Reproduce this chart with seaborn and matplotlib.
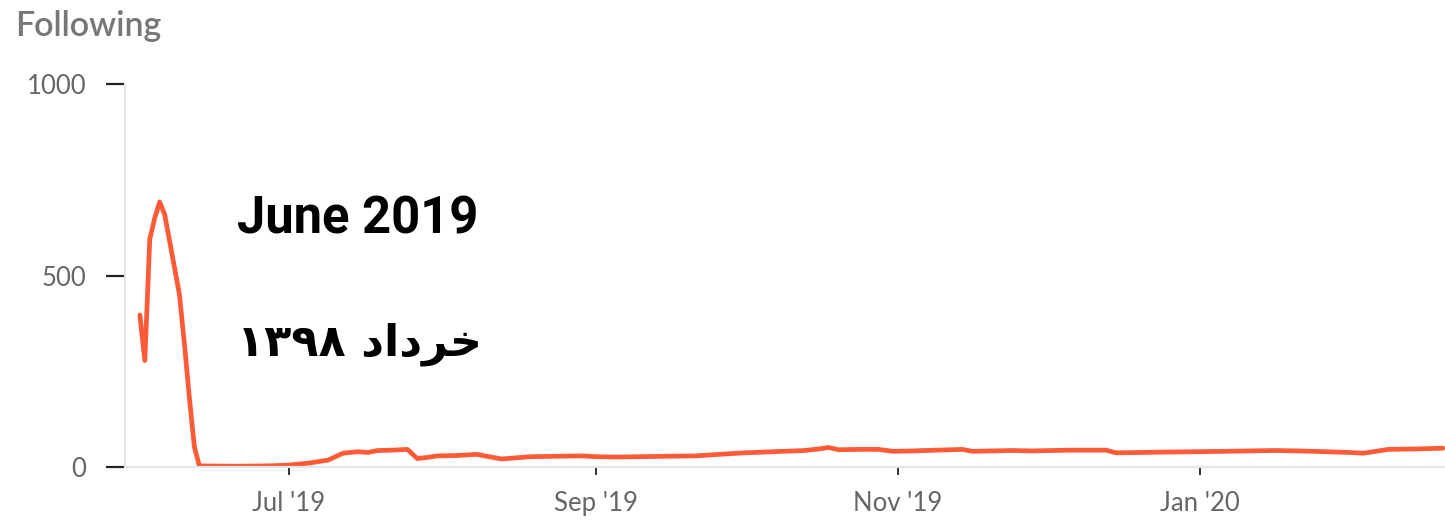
import pandas as pd
import matplotlib
matplotlib.use("Agg")
from matplotlib import pyplot as plt
import matplotlib.dates as mdates
import seaborn as sns

# data
dates = ["2019-06-01", "2019-06-02", "2019-06-03", "2019-06-04", "2019-06-05",
         "2019-06-06", "2019-06-07", "2019-06-08", "2019-06-09", "2019-06-10",
         "2019-06-11", "2019-06-12", "2019-06-13", "2019-06-20", "2019-06-27",
         "2019-07-01", "2019-07-05", "2019-07-09", "2019-07-12", "2019-07-15",
         "2019-07-17", "2019-07-19", "2019-07-22", "2019-07-25", "2019-07-27",
         "2019-07-29", "2019-07-31", "2019-08-04", "2019-08-08", "2019-08-10",
         "2019-08-13", "2019-08-16", "2019-08-19", "2019-08-24", "2019-08-29",
         "2019-09-01", "2019-09-05", "2019-09-10", "2019-09-15", "2019-09-21",
         "2019-09-26", "2019-10-01", "2019-10-07", "2019-10-13", "2019-10-16",
         "2019-10-18", "2019-10-20", "2019-10-24", "2019-10-28", "2019-10-31",
         "2019-11-04", "2019-11-09", "2019-11-14", "2019-11-16", "2019-11-20",
         "2019-11-24", "2019-11-28", "2019-12-02", "2019-12-06", "2019-12-10",
         "2019-12-13", "2019-12-15", "2019-12-20", "2019-12-25", "2020-01-01",
         "2020-01-06", "2020-01-11", "2020-01-16", "2020-01-21", "2020-01-26",
         "2020-01-31", "2020-02-03", "2020-02-06", "2020-02-08", "2020-02-13",
         "2020-02-19"]
following = [397, 278, 595, 650, 692, 660, 590, 520, 449, 320,
             180, 53, 3, 2, 3,
             5, 10, 18, 36, 40,
             38, 43, 44, 46, 22,
             25, 29, 30, 33, 28,
             21, 24, 27, 28, 29,
             27, 26, 27, 28, 29,
             33, 37, 40, 43, 47,
             51, 45, 46, 46, 41,
             42, 44, 46, 41, 42,
             43, 42, 43, 44, 44,
             44, 37, 38, 39, 40,
             41, 42, 43, 42, 40,
             38, 36, 42, 46, 47,
             49]

title = "Following"
note_en = "June 2019"
# "خرداد ۱۳۹۸" written in display order with joined letter forms
# (matplotlib does not shape right-to-left text by itself)
note_fa = "۱۳۹۸ ﺩﺍﺩﺮﺧ"

df = pd.DataFrame({"date": pd.to_datetime(dates), "following": following})

sns.set_theme(style="white")
plt.rcParams["font.family"] = ["Lato", "DejaVu Sans"]

fig = plt.figure(figsize=(14.45, 5.21), dpi=100)
ax = fig.add_axes([125 / 1445, 1 - 467 / 521, 1 - 125 / 1445, (467 - 84) / 521])

sns.lineplot(data=df, x="date", y="following", ax=ax, color="#ff5a36", linewidth=3.4)

ax.set_xlim(pd.Timestamp("2019-05-29"), pd.Timestamp("2020-02-19 10:00"))
ax.set_ylim(0, 1000)
ax.set_yticks([0, 500, 1000])
ax.xaxis.set_major_locator(mdates.MonthLocator(bymonth=[1, 3, 5, 7, 9, 11]))
ax.xaxis.set_major_formatter(mdates.DateFormatter("%b '%y"))
ax.set_xlabel("")
ax.set_ylabel("")

for side in ["top", "right"]:
    ax.spines[side].set_visible(False)
for side in ["left", "bottom"]:
    ax.spines[side].set_color("#dfe6ee")
    ax.spines[side].set_linewidth(1.5)

ax.tick_params(axis="y", length=14, width=1.6, color="#222222", pad=14,
               labelsize=18.5, labelcolor="#666666", left=True)
ax.tick_params(axis="x", length=6, width=1.3, color="#222222", pad=11,
               labelsize=18.5, labelcolor="#666666", bottom=True)

fig.text(15 / 1445, 1 - 36 / 521, title, fontsize=24.5, color="#777777",
         fontweight="semibold", va="baseline")
fig.text(237 / 1445, 1 - 233 / 521, note_en, fontsize=36.5, fontweight="bold",
         color="black", family=["Roboto", "DejaVu Sans"], va="baseline")
fig.text(237 / 1445, 1 - 355 / 521, note_fa, fontsize=32, fontweight="bold",
         color="black", family=["DejaVu Sans"], va="baseline")

fig.savefig("out.png", dpi=100)
